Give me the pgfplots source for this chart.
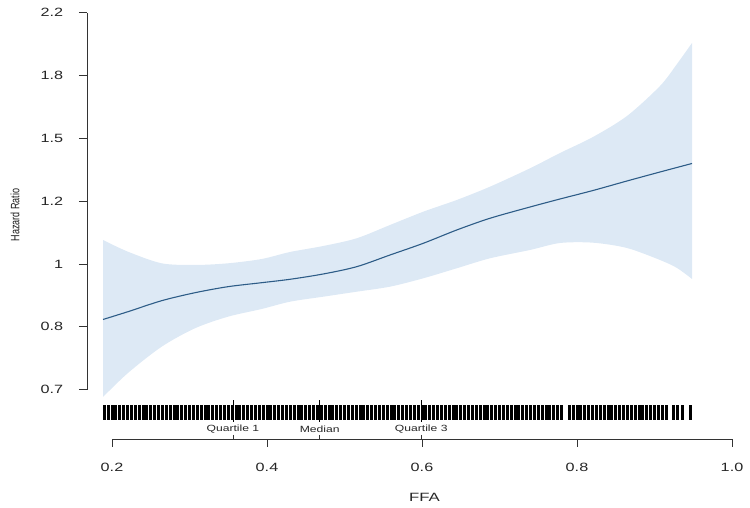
\documentclass[border=0pt]{standalone}
\usepackage{fontspec}
\setmainfont{Liberation Sans}
\usepackage{pgfplots}
\pgfplotsset{compat=1.18}
\usepgfplotslibrary{fillbetween}
\definecolor{bandblue}{RGB}{221,233,245}
\definecolor{linecol}{RGB}{45,92,135}
\begin{document}
\begin{tikzpicture}
\begin{axis}[
 at={(0pt,0pt)}, anchor=south west,
 scale only axis, width=645pt, height=429pt,
 xmin=0.16774, xmax=1.0, ymin=-0.557, ymax=0.8084,
 axis x line*=bottom, axis y line*=left,
 axis line style={draw=none},
 clip=false,
 xtick={0.2,0.4,0.6,0.8,1.0}, xticklabels={0.2,0.4,0.6,0.8,1.0},
 ytick={-0.4,-0.2,0,0.2,0.4,0.6,0.8}, yticklabels={0.7,0.8,1,1.2,1.5,1.8,2.2},
 tick align=outside, major tick length=8pt,
 tick style={black!80, line width=0.8pt},
 ticklabel style={font=\fontsize{12}{14}\selectfont, xscale=1.35, text=black!85},
 xticklabel shift=13pt, yticklabel shift=11pt,
 /pgf/number format/assume math mode=true,
 xlabel={FFA},
 xlabel style={font=\fontsize{12}{14}\selectfont, xscale=1.4, text=black!85, at={(axis description cs:0.5233,0)}, anchor=center, yshift=-58pt},
 ylabel={\scalebox{1}[1.35]{Hazard Ratio}},
 ylabel style={font=\fontsize{9}{11}\selectfont, text=black!90, at={(axis description cs:-0.1116,0.522)}, anchor=center},
]
% confidence band
\addplot[name path=up, draw=none, smooth] coordinates {
(0.1884,0.0764) (0.2206,0.0391) (0.2641,0.0022) (0.3071,-0.0032) (0.3497,0.0022)
(0.3932,0.0159) (0.4297,0.0382) (0.4726,0.0573) (0.5157,0.0818) (0.5587,0.1241)
(0.6017,0.1665) (0.6448,0.2037) (0.6877,0.2460) (0.7394,0.3046) (0.7781,0.3533)
(0.8206,0.4042) (0.8645,0.4710) (0.9071,0.5665) (0.9290,0.6365) (0.9484,0.7034)};
\addplot[name path=lo, draw=none, smooth] coordinates {
(0.1884,-0.4233) (0.2206,-0.3469) (0.2641,-0.2632) (0.3071,-0.2046) (0.3497,-0.1677)
(0.3932,-0.1432) (0.4297,-0.1200) (0.4726,-0.1041) (0.5157,-0.0882) (0.5587,-0.0722)
(0.6017,-0.0455) (0.6448,-0.0137) (0.6877,0.0181) (0.7394,0.0446) (0.7781,0.0668)
(0.8206,0.0678) (0.8645,0.0509) (0.9071,0.0127) (0.9290,-0.0127) (0.9484,-0.0477)};
\addplot[bandblue] fill between[of=up and lo];
% fitted curve
\addplot[linecol, line width=1.1pt, smooth] coordinates {
(0.1884,-0.1766) (0.2206,-0.1518) (0.2641,-0.1168) (0.3071,-0.0914) (0.3497,-0.0722)
(0.3932,-0.0595) (0.4297,-0.0487) (0.4726,-0.0318) (0.5157,-0.0086) (0.5587,0.0286)
(0.6017,0.0659) (0.6448,0.1082) (0.6877,0.1455) (0.7394,0.1814) (0.7781,0.2069)
(0.8206,0.2339) (0.8645,0.2642) (0.9071,0.2928) (0.9484,0.3199)};
% rug
\addplot[only marks, mark=|, mark size=7.5pt, mark options={line width=3pt, black}] coordinates {
(0.190,-0.473) (0.195,-0.473) (0.200,-0.473) (0.205,-0.473) (0.210,-0.473) (0.215,-0.473) (0.220,-0.473) (0.225,-0.473) (0.230,-0.473) (0.235,-0.473)
(0.240,-0.473) (0.245,-0.473) (0.250,-0.473) (0.255,-0.473) (0.260,-0.473) (0.265,-0.473) (0.270,-0.473) (0.275,-0.473) (0.280,-0.473) (0.285,-0.473)
(0.290,-0.473) (0.295,-0.473) (0.300,-0.473) (0.305,-0.473) (0.310,-0.473) (0.315,-0.473) (0.320,-0.473) (0.325,-0.473) (0.330,-0.473) (0.335,-0.473)
(0.340,-0.473) (0.345,-0.473) (0.350,-0.473) (0.355,-0.473) (0.360,-0.473) (0.365,-0.473) (0.370,-0.473) (0.375,-0.473) (0.380,-0.473) (0.385,-0.473)
(0.390,-0.473) (0.395,-0.473) (0.400,-0.473) (0.405,-0.473) (0.410,-0.473) (0.415,-0.473) (0.420,-0.473) (0.425,-0.473) (0.430,-0.473) (0.435,-0.473)
(0.440,-0.473) (0.445,-0.473) (0.450,-0.473) (0.455,-0.473) (0.460,-0.473) (0.465,-0.473) (0.470,-0.473) (0.475,-0.473) (0.480,-0.473) (0.485,-0.473)
(0.490,-0.473) (0.495,-0.473) (0.500,-0.473) (0.505,-0.473) (0.510,-0.473) (0.515,-0.473) (0.520,-0.473) (0.525,-0.473) (0.530,-0.473) (0.535,-0.473)
(0.540,-0.473) (0.545,-0.473) (0.550,-0.473) (0.555,-0.473) (0.560,-0.473) (0.565,-0.473) (0.570,-0.473) (0.575,-0.473) (0.580,-0.473) (0.585,-0.473)
(0.590,-0.473) (0.595,-0.473) (0.600,-0.473) (0.605,-0.473) (0.610,-0.473) (0.615,-0.473) (0.620,-0.473) (0.625,-0.473) (0.630,-0.473) (0.635,-0.473)
(0.640,-0.473) (0.645,-0.473) (0.650,-0.473) (0.655,-0.473) (0.660,-0.473) (0.665,-0.473) (0.670,-0.473) (0.675,-0.473) (0.680,-0.473) (0.685,-0.473)
(0.690,-0.473) (0.695,-0.473) (0.700,-0.473) (0.705,-0.473) (0.710,-0.473) (0.715,-0.473) (0.720,-0.473) (0.725,-0.473) (0.730,-0.473) (0.735,-0.473)
(0.740,-0.473) (0.745,-0.473) (0.750,-0.473) (0.755,-0.473) (0.760,-0.473) (0.765,-0.473) (0.770,-0.473) (0.775,-0.473) (0.780,-0.473) (0.790,-0.473)
(0.795,-0.473) (0.800,-0.473) (0.805,-0.473) (0.810,-0.473) (0.815,-0.473) (0.820,-0.473) (0.825,-0.473) (0.830,-0.473) (0.835,-0.473) (0.840,-0.473)
(0.845,-0.473) (0.850,-0.473) (0.855,-0.473) (0.860,-0.473) (0.865,-0.473) (0.870,-0.473) (0.875,-0.473) (0.880,-0.473) (0.885,-0.473) (0.890,-0.473)
(0.895,-0.473) (0.900,-0.473) (0.905,-0.473) (0.910,-0.473) (0.915,-0.473) (0.925,-0.473) (0.930,-0.473) (0.936,-0.473) (0.947,-0.473)};
% quartile markers in the rug
\addplot[only marks, mark=|, mark size=11pt, mark options={line width=0.8pt, black}] coordinates {
(0.356,-0.468) (0.468,-0.468) (0.599,-0.468)};
% quartile markers on the axis
\addplot[only marks, mark=|, mark size=2pt, mark options={line width=0.8pt, black!80}] coordinates {
(0.356,-0.5506) (0.468,-0.5506) (0.599,-0.5506)};
% quartile labels
\node[font=\fontsize{9}{10}\selectfont, xscale=1.35, text=black!85] at (axis cs:0.356,-0.525) {Quartile 1};
\node[font=\fontsize{9}{10}\selectfont, xscale=1.35, text=black!85] at (axis cs:0.468,-0.525) {Median};
\node[font=\fontsize{9}{10}\selectfont, xscale=1.35, text=black!85] at (axis cs:0.599,-0.525) {Quartile 3};
% axis lines (R style, detached)
\draw[black!80, line width=0.8pt] (axis cs:0.2,-0.557) -- (axis cs:1.0,-0.557);
\draw[black!80, line width=0.8pt] (axis cs:0.16774,-0.4) -- (axis cs:0.16774,0.8);
\end{axis}
\pgfresetboundingbox
\useasboundingbox (-87pt,-69pt) rectangle (663pt,439pt);
\end{tikzpicture}
\end{document}
